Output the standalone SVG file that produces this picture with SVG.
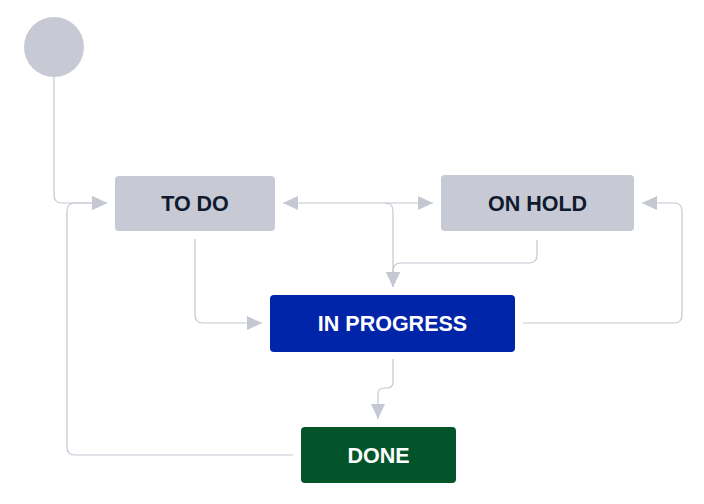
<svg xmlns="http://www.w3.org/2000/svg" width="704" height="504" viewBox="0 0 704 504">
<style>
.edge{fill:none;stroke:#c5c7d3;stroke-width:1.2}
.lbl{font-family:"Liberation Sans",Arial,sans-serif;font-weight:bold;font-size:21.5px;text-anchor:middle}
.grey{fill:#c7c9d5}
</style>
<defs>
<marker id="ah" viewBox="0 0 15 14" refX="15" refY="7" markerWidth="15" markerHeight="14" markerUnits="userSpaceOnUse" orient="auto-start-reverse">
<path d="M0,0 L15,7 L0,14 z" fill="#c5c7d3"/>
</marker>
</defs>
<rect width="704" height="504" fill="#ffffff"/>
<g id="connectors">
<path class="edge" d="M54,77 V195 Q54,203 62,203 H107" marker-end="url(#ah)"/>
<path class="edge" d="M293,455 H75 Q67,455 67,447 V211 Q67,203 75,203 H107" marker-end="url(#ah)"/>
<path class="edge" d="M283,203 H433" marker-start="url(#ah)" marker-end="url(#ah)"/>
<path class="edge" d="M385,203 Q393,203 393,211 V287" marker-end="url(#ah)"/>
<path class="edge" d="M537,240 V255 Q537,263 529,263 H401 Q393,263 393,271 V287" marker-end="url(#ah)"/>
<path class="edge" d="M523,323 H674 Q682,323 682,315 V211 Q682,203 674,203 H642" marker-end="url(#ah)"/>
<path class="edge" d="M195,239 V315 Q195,323 203,323 H262" marker-end="url(#ah)"/>
<path class="edge" d="M393,359 V382 Q393,388 387,388 H384 Q378,388 378,394 V419" marker-end="url(#ah)"/>
</g>
<g id="start">
<circle cx="54" cy="47" r="30" class="grey"/>
</g>
<g id="todo">
<rect x="115" y="176" width="160" height="55" rx="4" class="grey"/>
<text x="195" y="211" class="lbl" fill="#0f1a2e">TO DO</text>
</g>
<g id="onhold">
<rect x="441" y="175" width="193" height="56" rx="4" class="grey"/>
<text x="537.5" y="210.5" class="lbl" fill="#0f1a2e">ON HOLD</text>
</g>
<g id="inprogress">
<rect x="270" y="295" width="245" height="57" rx="4" fill="#0025a8"/>
<text x="392.5" y="331" class="lbl" fill="#ffffff">IN PROGRESS</text>
</g>
<g id="done">
<rect x="301" y="427" width="155" height="56" rx="4" fill="#03542b"/>
<text x="378.5" y="463" class="lbl" fill="#ffffff">DONE</text>
</g>
</svg>
